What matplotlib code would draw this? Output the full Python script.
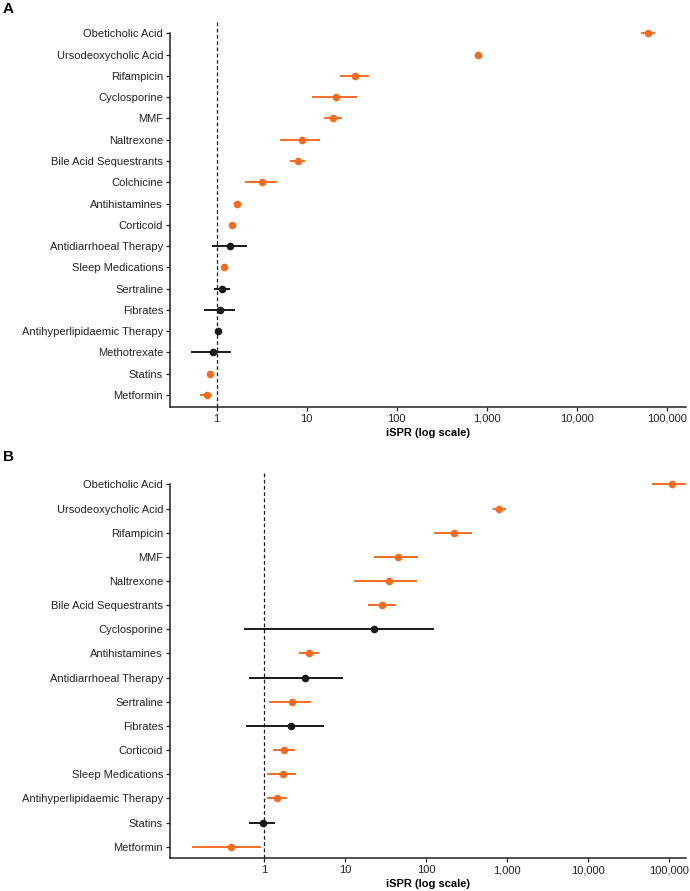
import matplotlib
matplotlib.use("Agg")
import matplotlib.pyplot as plt
import numpy as np

plt.rcParams['font.family'] = ['Liberation Sans', 'DejaVu Sans']

ORANGE = "#f26d21"
BLACK = "#1a1a1a"

# Panel A
drugs_a = ["Obeticholic Acid", "Ursodeoxycholic Acid", "Rifampicin", "Cyclosporine", "MMF",
           "Naltrexone", "Bile Acid Sequestrants", "Colchicine", "Antihistamines", "Corticoid",
           "Antidiarrhoeal Therapy", "Sleep Medications", "Sertraline", "Fibrates",
           "Antihyperlipidaemic Therapy", "Methotrexate", "Statins", "Metformin"]
ispr_a = [62500, 794, 34.4, 21.2, 19.4, 8.8, 7.94, 3.16, 1.67, 1.47,
          1.41, 1.22, 1.14, 1.09, 1.03, 0.90, 0.84, 0.78]
low_a = [51600, 760, 23.5, 11.4, 15.7, 5.05, 6.5, 2.06, 1.62, 1.43,
         0.887, 1.18, 0.94, 0.72, 1.0, 0.514, 0.81, 0.65]
high_a = [74000, 830, 49, 36.5, 24.9, 14.1, 9.65, 4.64, 1.72, 1.51,
          2.15, 1.26, 1.41, 1.61, 1.06, 1.44, 0.87, 0.89]
signif_a = [True, True, True, True, True, True, True, True, True, True,
            False, True, False, False, False, False, True, True]

# Panel B
drugs_b = ["Obeticholic Acid", "Ursodeoxycholic Acid", "Rifampicin", "MMF", "Naltrexone",
           "Bile Acid Sequestrants", "Cyclosporine", "Antihistamines", "Antidiarrhoeal Therapy",
           "Sertraline", "Fibrates", "Corticoid", "Sleep Medications",
           "Antihyperlipidaemic Therapy", "Statins", "Metformin"]
ispr_b = [107000, 796, 222, 44.3, 35, 28.6, 22.6, 3.59, 3.18, 2.18, 2.14, 1.73, 1.69, 1.45, 0.96, 0.388]
low_b = [61700, 671, 124, 22.8, 12.9, 18.9, 0.567, 2.7, 0.653, 1.15, 0.589, 1.27, 1.07, 1.09, 0.65, 0.129]
high_b = [190000, 964, 363, 79.5, 76, 41.9, 124, 4.77, 9.29, 3.74, 5.46, 2.39, 2.46, 1.92, 1.36, 0.90]
signif_b = [True, True, True, True, True, True, False, True, False, True, False, True, True, True, False, True]

xticks = [1, 10, 100, 1000, 10000, 100000]
xtick_labels = ["1", "10", "100", "1,000", "10,000", "100,000"]


def forest(ax, drugs, ispr, low, high, signif, xlim, ylim_pad):
    y = np.arange(len(drugs))
    for i in range(len(drugs)):
        c = ORANGE if signif[i] else BLACK
        ax.plot([low[i], high[i]], [y[i], y[i]], color=c, lw=1.4, solid_capstyle='butt', zorder=2)
        ax.plot(ispr[i], y[i], 'o', color=c, markersize=5.5, markeredgewidth=0, zorder=3)
    ax.axvline(1, color=BLACK, lw=0.9, ls=(0, (3, 2)), zorder=1)
    ax.set_xscale('log')
    ax.set_xlim(*xlim)
    ax.set_ylim(len(drugs) - 1 + ylim_pad[1], -ylim_pad[0])
    ax.set_yticks(y)
    ax.set_yticklabels(drugs)
    ax.set_xticks(xticks)
    ax.set_xticklabels(xtick_labels)
    ax.xaxis.set_minor_locator(matplotlib.ticker.NullLocator())
    ax.spines['top'].set_visible(False)
    ax.spines['right'].set_visible(False)
    for s in ['left', 'bottom']:
        ax.spines[s].set_linewidth(1.1)
        ax.spines[s].set_color("#222222")
    ax.spines['left'].set_bounds(len(drugs) - 1 + ylim_pad[1], 0)
    ax.tick_params(axis='both', labelsize=8, colors="#222222", length=3, width=0.9, pad=2)
    ax.set_xlabel("iSPR (log scale)", fontsize=8, fontweight='bold', labelpad=3)


fig = plt.figure(figsize=(6.9, 8.91), dpi=100)
ax_a = fig.add_axes([0.2464, 0.5435, 0.748, 0.4318])
ax_b = fig.add_axes([0.2464, 0.0367, 0.748, 0.4332])

forest(ax_a, drugs_a, ispr_a, low_a, high_a, signif_a, (0.303, 163700), (0.53, 0.55))
forest(ax_b, drugs_b, ispr_b, low_b, high_b, signif_b, (0.0686, 160800), (0.5, 0.48))

fig.text(0.004, 0.990, "A", fontsize=11, fontweight='bold', va='center', ha='left')
fig.text(0.004, 0.487, "B", fontsize=11, fontweight='bold', va='center', ha='left')

fig.savefig("out.png", dpi=100)
